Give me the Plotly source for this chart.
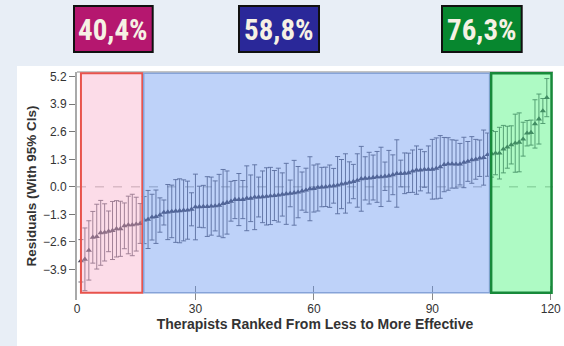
import plotly.graph_objects as go

# ---------------- data ----------------
therapist_rank = list(range(1, 120))
residuals = [
    -3.49, -3.42, -3.00, -2.38, -2.35, -2.17, -2.15, -2.10, -2.06, -1.98,
    -1.98, -1.84, -1.80, -1.80, -1.76, -1.73, -1.57, -1.54, -1.43, -1.41,
    -1.33, -1.21, -1.19, -1.16, -1.14, -1.13, -1.11, -1.10, -1.06, -0.95,
    -0.94, -0.93, -0.93, -0.91, -0.90, -0.87, -0.79, -0.74, -0.68, -0.60,
    -0.60, -0.60, -0.54, -0.54, -0.49, -0.48, -0.47, -0.45, -0.43, -0.41,
    -0.39, -0.36, -0.33, -0.31, -0.28, -0.25, -0.20, -0.16, -0.09, -0.08,
    -0.03, -0.01, 0.00, 0.03, 0.05, 0.08, 0.13, 0.16, 0.21, 0.25,
    0.30, 0.38, 0.40, 0.41, 0.44, 0.47, 0.47, 0.50, 0.52, 0.57,
    0.63, 0.63, 0.64, 0.66, 0.74, 0.79, 0.79, 0.82, 0.82, 0.83,
    0.87, 0.94, 1.05, 1.08, 1.08, 1.07, 1.07, 1.15, 1.20, 1.27,
    1.30, 1.35, 1.38, 1.52, 1.56, 1.59, 1.59, 1.78, 1.87, 1.98,
    2.06, 2.10, 2.25, 2.53, 2.56, 2.97, 3.20, 3.58, 4.21,
]
ci_half = [
    1.00, 1.48, 1.40, 1.22, 1.53, 1.53, 1.35, 0.96, 1.37, 1.33,
    1.30, 1.08, 1.36, 1.45, 1.27, 0.94, 1.11, 1.37, 1.08, 1.26,
    0.81, 0.59, 1.30, 1.24, 1.48, 1.51, 1.44, 1.37, 0.78, 1.55,
    0.97, 1.00, 1.41, 1.37, 1.18, 1.46, 1.61, 1.49, 0.94, 0.90,
    1.23, 0.90, 1.53, 1.10, 1.53, 0.94, 1.22, 1.35, 1.35, 1.18,
    1.27, 1.02, 1.44, 0.63, 1.53, 1.21, 0.90, 1.04, 1.51, 1.11,
    1.11, 0.93, 0.93, 1.00, 0.82, 1.35, 1.16, 1.40, 0.97, 0.81,
    1.26, 1.53, 1.02, 1.22, 1.06, 1.20, 1.40, 0.67, 1.20, 0.94,
    1.59, 0.63, 0.96, 0.93, 1.00, 1.14, 0.98, 0.84, 1.11, 1.41,
    1.44, 1.48, 1.28, 1.24, 1.14, 1.13, 0.98, 1.19, 0.94, 1.10,
    0.94, 0.86, 1.30, 1.02, 1.10, 1.02, 1.22, 1.12, 0.99, 0.90,
    1.37, 1.39, 0.80, 0.60, 0.59, 1.14, 1.18, 0.59, 0.90,
]
y_ticks = [-3.9, -2.6, -1.3, 0.0, 1.3, 2.6, 3.9, 5.2]
x_ticks = [0, 30, 60, 90, 120]

# group bands (rank ranges) and their headline percentages
band_names = ["low", "mid", "high"]
band_start = [1.0, 16.9, 104.9]
band_end = [16.55, 104.5, 120.2]
band_labels = ["40,4%", "58,8%", "76,3%"]

# ---------------- layout helpers ----------------
W, H = 564, 346
ML, MR, MT, MB = 77, 11, 72, 46
PW, PH = W - ML - MR, H - MT - MB


def px_x(px):
    return (px - ML) / PW


def px_y(py):
    return (H - MB - py) / PH


fig = go.Figure()
fig.add_trace(go.Scatter(
    x=therapist_rank, y=residuals, mode="markers",
    marker=dict(symbol="triangle-up", size=5.5, color="#4a4a5e"),
    error_y=dict(type="data", array=ci_half, symmetric=True,
                 color="rgba(90,90,106,0.9)", thickness=1, width=2.5),
    showlegend=False, hoverinfo="skip",
))

shapes = []
# white panel behind the chart
shapes.append(dict(type="rect", xref="paper", yref="paper",
                   x0=px_x(17), x1=px_x(W + 5), y0=px_y(66), y1=px_y(H + 5),
                   fillcolor="white", line=dict(width=0), layer="below"))
# dashed zero line
shapes.append(dict(type="line", xref="paper", yref="y", x0=0, x1=1, y0=0, y1=0,
                   line=dict(color="#a8a8a8", width=1, dash="dash"), layer="below"))
# top frame line
shapes.append(dict(type="line", xref="paper", yref="paper", x0=0, x1=1, y0=1, y1=1,
                   line=dict(color="#c4c4c4", width=2), layer="above"))

fills = ["rgb(247,167,197)", "rgb(92,142,239)", "rgb(52,242,107)"]
borders = ["#e8534c", "#86a3d8", "#17893a"]
bwidths = [2, 1.5, 2.5]
y_lo, y_hi = -5.0, 5.36
for s, e, f in zip(band_start, band_end, fills):
    shapes.append(dict(type="rect", xref="x", yref="y", x0=s, x1=e, y0=y_lo, y1=y_hi,
                       fillcolor=f, opacity=0.4, line=dict(width=0), layer="above"))
for s, e, b, w in zip(band_start, band_end, borders, bwidths):
    shapes.append(dict(type="rect", xref="x", yref="y", x0=s, x1=e, y0=y_lo, y1=y_hi,
                       fillcolor="rgba(0,0,0,0)", line=dict(color=b, width=w),
                       layer="above"))

# headline boxes
box_fill = ["#b5176f", "#2a2899", "#07872f"]
box_px = [(74, 152.7), (239, 319), (442, 521.7)]
annotations = []
for (bx0, bx1), fc, txt in zip(box_px, box_fill, band_labels):
    shapes.append(dict(type="rect", xref="paper", yref="paper",
                       x0=px_x(bx0), x1=px_x(bx1), y0=px_y(52), y1=px_y(6),
                       fillcolor=fc, line=dict(color="#111111", width=2),
                       layer="above"))
    annotations.append(dict(xref="paper", yref="paper",
                            x=px_x((bx0 + bx1) / 2), y=px_y(30.5),
                            xanchor="center", yanchor="middle", showarrow=False,
                            text=f"<b>{txt}</b>",
                            font=dict(family="Liberation Sans Narrow, Roboto Condensed, Arial Narrow, Liberation Sans",
                                      size=29, color="#f6f1e4")))

fig.update_layout(
    width=W, height=H, autosize=False,
    margin=dict(l=ML, r=MR, t=MT, b=MB, pad=0, autoexpand=False),
    paper_bgcolor="#e8eef6",
    plot_bgcolor="#f7f7f7",
    shapes=shapes, annotations=annotations,
    font=dict(family="Liberation Sans, Arial, sans-serif", color="#333333"),
    xaxis=dict(range=[0, (W - MR - ML) / 3.948], tickvals=x_ticks, automargin=False,
               ticks="inside", ticklen=14, tickcolor="#8a8a8a", tickwidth=1,
               showgrid=False, zeroline=False, showline=False,
               tickfont=dict(size=12, color="#333333"),
               title=dict(text="<b>Therapists Ranked From Less to More Effective</b>",
                          font=dict(size=14, color="#333333"), standoff=2)),
    yaxis=dict(range=[-5.34, 5.42], tickvals=y_ticks, tickformat=".1f", automargin=False,
               ticks="outside", ticklen=6, tickcolor="#777777", tickwidth=1,
               showgrid=False, zeroline=False, showline=True,
               linecolor="#a9a9a9", linewidth=2,
               tickfont=dict(size=12, color="#333333"),
               title=dict(text="<b>Residuals (With 95% CIs)</b>",
                          font=dict(size=13.5, color="#333333"), standoff=3)),
)

fig.write_html(
    "out.html",
    config={"displayModeBar": False, "responsive": False},
    post_script="document.body.style.margin='0';document.body.style.overflow='hidden';"
                "document.body.style.background='#e8eef6';"
                "var gd=document.getElementById('{plot_id}');"
                "Plotly.relayout(gd,{width:564,height:346});",
)
